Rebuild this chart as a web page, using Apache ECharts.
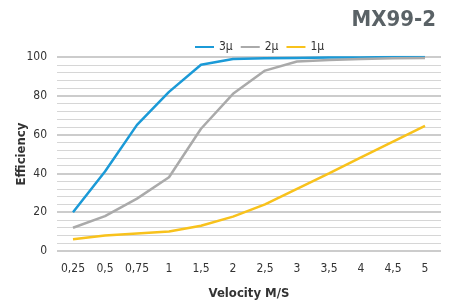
<!DOCTYPE html>
<html>
<head>
<meta charset="utf-8">
<script src="https://cdn.jsdelivr.net/npm/echarts@6/dist/echarts.min.js"></script>
<style>
  html, body { margin: 0; padding: 0; background: #fff; }
  #chart { width: 458px; height: 305px; }
</style>
</head>
<body>
<div id="chart"></div>
<script>
// x categories (velocity, m/s)
var velocity = ['0,25', '0,5', '0,75', '1', '1,5', '2', '2,5', '3', '3,5', '4', '4,5', '5'];
// efficiency per particle size
var eff3 = [20, 41, 65, 82, 96, 99, 99.3, 99.5, 99.7, 99.8, 100, 100];
var eff2 = [12, 18, 27, 38, 63, 81, 93, 97.7, 98.5, 99, 99.3, 99.5];
var eff1 = [6, 8, 9, 10, 13, 17.7, 24, 32, 40, 48.3, 56.4, 64.5];
var seriesNames = ['3μ', '2μ', '1μ'];

var font = '"DejaVu Sans Condensed", "Liberation Sans Narrow", "Roboto", sans-serif';
var chart = echarts.init(document.getElementById('chart'));

chart.setOption({
  animation: false,
  color: ['#1b9ad7', '#aaaaaa', '#f8c21c'],
  title: {
    text: 'MX99-2',
    right: 17,
    top: 4,
    textStyle: { fontFamily: font, fontSize: 22, fontWeight: 'bold', color: '#5a6266' }
  },
  legend: {
    top: 36,
    left: 190,
    itemWidth: 19,
    itemHeight: 2,
    itemGap: 8,
    icon: 'rect',
    textStyle: { fontFamily: font, fontSize: 12, color: '#333' },
    data: seriesNames
  },
  grid: { left: 57, right: 17, top: 57, bottom: 50 },
  xAxis: {
    type: 'category',
    data: velocity,
    boundaryGap: true,
    name: 'Velocity M/S',
    nameLocation: 'middle',
    nameGap: 36,
    nameTextStyle: { fontFamily: font, fontSize: 13, fontWeight: 'bold', color: '#333' },
    axisLine: { show: false },
    axisTick: { show: false },
    axisLabel: { fontFamily: font, fontSize: 12, color: '#333', margin: 12 }
  },
  yAxis: {
    type: 'value',
    min: 0,
    max: 100,
    interval: 20,
    name: 'Efficiency',
    nameLocation: 'middle',
    nameGap: 29,
    nameMoveOverlap: false,
    nameTextStyle: { fontFamily: font, fontSize: 13, fontWeight: 'bold', color: '#333' },
    axisLine: { show: false },
    axisTick: { show: false },
    axisLabel: { fontFamily: font, fontSize: 12, color: '#333', margin: 10 },
    splitLine: { lineStyle: { color: '#cccccc', width: 2 } },
    minorTick: { show: false, splitNumber: 5 },
    minorSplitLine: { show: true, lineStyle: { color: '#d6d6d6', width: 1 } }
  },
  series: [
    { name: seriesNames[0], type: 'line', data: eff3, symbol: 'none', lineStyle: { width: 2.5 } },
    { name: seriesNames[1], type: 'line', data: eff2, symbol: 'none', lineStyle: { width: 2.5 } },
    { name: seriesNames[2], type: 'line', data: eff1, symbol: 'none', lineStyle: { width: 2.5 } }
  ]
});
</script>
</body>
</html>
